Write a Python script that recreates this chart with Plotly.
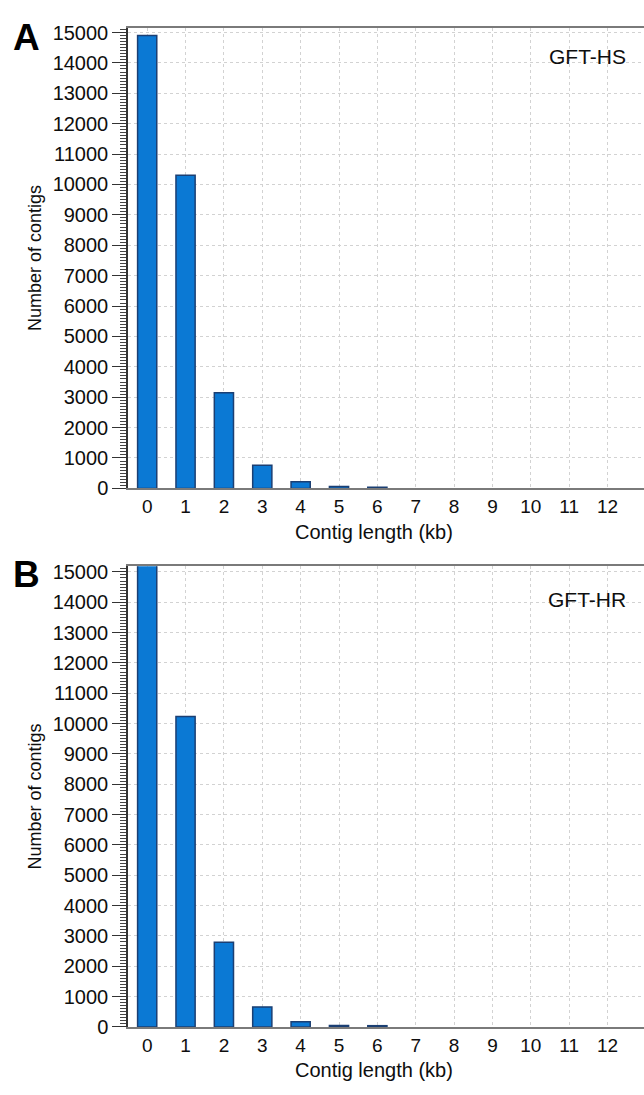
import plotly.graph_objects as go

lengths_kb = [0, 1, 2, 3, 4, 5, 6, 7, 8, 9, 10, 11, 12]
gft_hs = [14900, 10300, 3150, 760, 215, 65, 35, 0, 0, 0, 0, 0, 0]
gft_hr = [15250, 10230, 2790, 660, 170, 50, 40, 0, 0, 0, 0, 0, 0]
y_ticks = list(range(0, 15001, 1000))
y_ticktext = [str(v) for v in y_ticks]

W, H = 644, 1095
FONT = "Liberation Sans, Arial, sans-serif"
TXT = "#0e0e0e"

fig = go.Figure()

def bar_style(values):
    return dict(
        marker=dict(color="#0b79d4",
                    line=dict(color="#1b3f73", width=[1.5 if v > 0 else 0 for v in values])),
        width=0.5, showlegend=False,
    )

fig.add_trace(go.Bar(x=lengths_kb, y=gft_hs, xaxis="x", yaxis="y", **bar_style(gft_hs)))
fig.add_trace(go.Bar(x=lengths_kb, y=gft_hr, xaxis="x2", yaxis="y2", **bar_style(gft_hr)))

def px_x(p):
    return p / W

def px_y(p):
    return 1 - p / H

xdom = [px_x(128), 1.0]
xaxis_common = dict(
    domain=xdom, range=[-0.5, 12.95], tickmode="array", tickvals=lengths_kb,
    ticks="", showline=True, linecolor="#7a7a7a", linewidth=2, mirror=True,
    showgrid=True, gridcolor="#d2d2d2", griddash="dot", gridwidth=1,
    tickfont=dict(family=FONT, size=19, color=TXT), zeroline=False,
)
yaxis_common = dict(
    tickmode="array", tickvals=y_ticks, ticktext=y_ticktext, ticks="outside", ticklen=14, tickwidth=1.2,
    tickcolor="#333", showline=True, linecolor="#333", linewidth=1.5,
    showgrid=True, gridcolor="#d2d2d2", griddash="dot", gridwidth=1,
    tickfont=dict(family=FONT, size=20, color=TXT), zeroline=False,
    minor=dict(dtick=100, ticks="outside", ticklen=6, tickcolor="#444", tickwidth=1, showgrid=False),
    title=dict(text="Number of contigs", font=dict(family=FONT, size=18, color=TXT), standoff=6),
)

fig.update_layout(
    width=W, height=H, margin=dict(l=0, r=0, t=0, b=0),
    paper_bgcolor="white", plot_bgcolor="white", bargap=0.5,
    xaxis=dict(anchor="y", **xaxis_common),
    yaxis=dict(anchor="x", domain=[px_y(490), px_y(22)], range=[0, 15160], **yaxis_common),
    xaxis2=dict(anchor="y2", **xaxis_common),
    yaxis2=dict(anchor="x2", domain=[px_y(1037), px_y(569)], range=[0, 15190], **yaxis_common),
)

ann = [
    dict(text="A", x=px_x(26), y=px_y(32), size=37, bold=True),
    dict(text="B", x=px_x(26), y=px_y(577), size=37, bold=True),
    dict(text="GFT-HS", x=px_x(587), y=px_y(51), size=21, bold=False),
    dict(text="GFT-HR", x=px_x(587), y=px_y(603), size=21, bold=False),
    dict(text="Contig length (kb)", x=px_x(374), y=px_y(534), size=20, bold=False),
    dict(text="Contig length (kb)", x=px_x(374), y=px_y(1081), size=20, bold=False),
]
for a in ann:
    t = f"<b>{a['text']}</b>" if a["bold"] else a["text"]
    fig.add_annotation(text=t, x=a["x"], y=a["y"], xref="paper", yref="paper",
                       xanchor="center", yanchor="middle", showarrow=False,
                       font=dict(family=FONT, size=a["size"], color="#000" if a["bold"] else TXT))

fig.write_html("out.html")
